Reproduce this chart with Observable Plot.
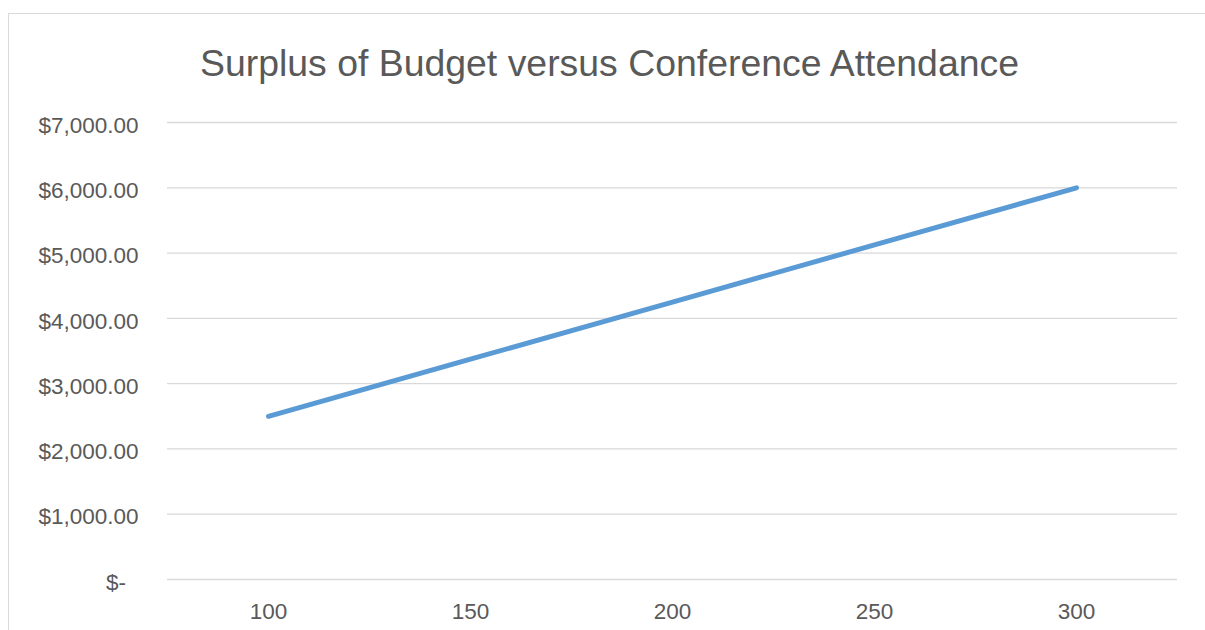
<!DOCTYPE html>
<html>
<head>
<meta charset="utf-8">
<script src="https://cdn.jsdelivr.net/npm/d3@7"></script>
<script src="https://cdn.jsdelivr.net/npm/@observablehq/plot@0.6"></script>
<style>
  html, body { margin: 0; padding: 0; background: #fff; width: 1205px; height: 630px; overflow: hidden; }
  body { position: relative; font-family: "Liberation Sans", Arial, sans-serif; }
  #frame { position: absolute; left: 8px; top: 13px; width: 1220px; height: 640px; border: 1px solid #d9d9d9; box-sizing: border-box; }
  #title { position: absolute; left: 0; width: 1219px; top: 45px; text-align: center; font-size: 37.4px; line-height: 37px; color: #595959; white-space: nowrap; }
  #chart { position: absolute; left: 0; top: 100px; }
</style>
</head>
<body>
<div id="frame"></div>
<div id="title">Surplus of Budget versus Conference Attendance</div>
<div id="chart"></div>
<script>
const attendance = [100, 150, 200, 250, 300];
const surplus = [2500, 3375, 4250, 5125, 6000];
const yTicks = [0, 1000, 2000, 3000, 4000, 5000, 6000, 7000];
const yTickLabels = ["$-\u00A0\u00A0", "$1,000.00", "$2,000.00", "$3,000.00", "$4,000.00", "$5,000.00", "$6,000.00", "$7,000.00"];
const xTicks = [100, 150, 200, 250, 300];

const data = attendance.map((a, i) => ({attendance: a, surplus: surplus[i]}));

const chart = Plot.plot({
  width: 1205,
  height: 530,
  marginTop: 22,
  marginBottom: 51,
  marginLeft: 167,
  marginRight: 28,
  style: {fontFamily: "'Liberation Sans', Arial, sans-serif", fontSize: "22.5px", color: "#595959", background: "transparent", overflow: "visible"},
  x: {domain: [75, 325], ticks: xTicks, tickSize: 0, tickPadding: 24, label: null},
  y: {domain: [0, 7000], ticks: yTicks, tickSize: 0, tickPadding: 29, label: null,
      tickFormat: d => yTickLabels[yTicks.indexOf(d)]},
  marks: [
    Plot.ruleY(yTicks, {stroke: "#d9d9d9", strokeWidth: 1.3, strokeOpacity: 1}),
    Plot.axisY({ticks: yTicks, tickSize: 0, tickPadding: 29, tickFormat: d => yTickLabels[yTicks.indexOf(d)], fill: "#595959", dy: 3, label: null}),
    Plot.axisX({ticks: xTicks, tickSize: 0, tickPadding: 24, fill: "#595959", label: null}),
    Plot.line(data, {x: "attendance", y: "surplus", stroke: "#5B9BD5", strokeWidth: 5, strokeLinecap: "round", strokeLinejoin: "round"})
  ]
});
document.getElementById("chart").appendChild(chart);
</script>
</body>
</html>
